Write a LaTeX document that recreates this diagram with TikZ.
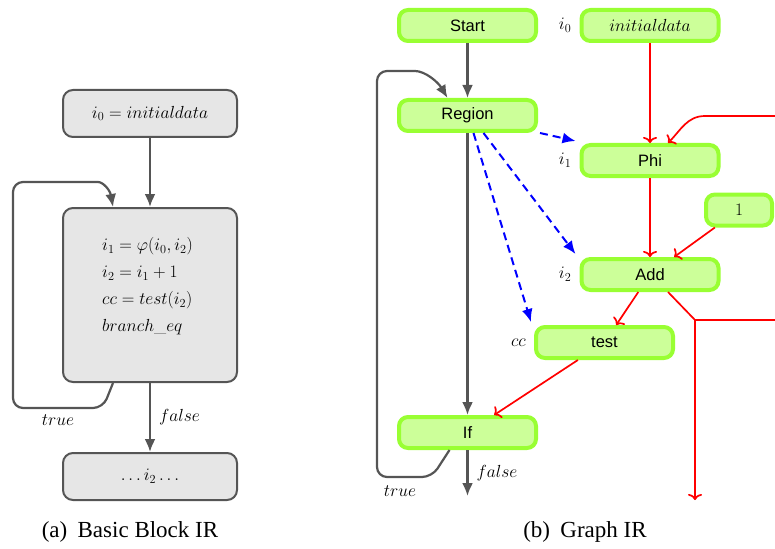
\RequirePackage{fix-cm}
\documentclass[tikz,border=0pt]{standalone}
\usepackage{fontspec}
\newfontfamily\nodefont{Liberation Sans}
\newfontfamily\capfont{Liberation Serif}
\usetikzlibrary{arrows.meta}
\definecolor{edgegray}{HTML}{555555}
\definecolor{blockfill}{HTML}{E6E6E6}
\definecolor{gfill}{HTML}{CCFF99}
\definecolor{gborder}{HTML}{99FF33}
\tikzset{
  block/.style={draw=edgegray, line width=2pt, fill=blockfill, rounded corners=10pt,
    minimum width=174pt, inner sep=0pt, font=\fontsize{17.5}{21}\selectfont},
  irnode/.style={draw=gborder, line width=4pt, fill=gfill, rounded corners=9pt,
    minimum width=137pt, minimum height=31pt, inner sep=0pt,
    font=\nodefont\fontsize{16.5}{19}\selectfont},
  mathlbl/.style={inner sep=0pt, font=\fontsize{17.5}{21}\selectfont},
  ctrl/.style={draw=edgegray, line width=2.2pt, -{Latex[length=13pt,width=11pt]}},
  dataflow/.style={draw=red, line width=1.7pt, -{To[length=6pt,width=14pt]}},
  dataline/.style={draw=red, line width=1.7pt},
  dep/.style={draw=blue, line width=2pt, dash pattern=on 8pt off 5pt,
    -{Latex[length=13pt,width=11pt]}},
  caption/.style={inner sep=0pt, font=\capfont\fontsize{23}{27}\selectfont},
}
\begin{document}
\begin{tikzpicture}[x=1pt, y=-1pt]
\useasboundingbox (0,0) rectangle (775,548);

% ---------- (a) basic block IR ----------
\node[block, minimum height=47pt] (init) at (150,113.5) {$i_0 = initialdata$};
\node[block, minimum height=174pt] (body) at (150,295) {};
\node[mathlbl, anchor=west, align=left, font=\fontsize{17.5}{27}\selectfont] (code) at (102,286.5)
  {$i_1 = \varphi(i_0, i_2)$\\ $i_2 = i_1 + 1$\\ $cc = test(i_2)$\\ $branch\_eq$};
\node[block, minimum height=47pt] (exit) at (150,476.5) {$\ldots i_2 \ldots$};

\draw[ctrl] (init) -- (body);
\draw[ctrl] (body) -- node[mathlbl, right=8pt] (falseA) {$false$} (exit);
\draw[ctrl, rounded corners=10pt] ([xshift=-37pt]body.south) -- (103,408) -- (13,408)
  -- (13,182) -- (88,182) [sharp corners] .. controls (103,182) and (110,190) .. ([xshift=-37pt]body.north);
\node[mathlbl] (trueA) at (58,420) {$true$};

\node[caption] (capA) at (130,532) {(a)\hspace{0.45em}Basic Block IR};

% ---------- (b) graph IR ----------
\node[irnode] (start) at (467.5,25.5) {Start};
\node[irnode] (initdata) at (650,25.5) {\fontsize{17.5}{21}\selectfont$initialdata$};
\node[irnode] (region) at (467.5,115.5) {Region};
\node[irnode] (phi) at (650,160.5) {Phi};
\node[irnode, minimum width=66pt] (one) at (739,210) {\fontsize{17.5}{21}\selectfont$1$};
\node[irnode] (add) at (650,274.5) {Add};
\node[irnode] (test) at (604.5,342.5) {test};
\node[irnode] (if) at (467.5,432.5) {If};

\node[mathlbl, anchor=east] (li0) at ([xshift=-8pt]initdata.west) {$i_0$};
\node[mathlbl, anchor=east] (li1) at ([xshift=-8pt]phi.west) {$i_1$};
\node[mathlbl, anchor=east] (li2) at ([xshift=-8pt]add.west) {$i_2$};
\node[mathlbl, anchor=east] (lcc) at ([xshift=-8pt]test.west) {$cc$};

% control flow
\coordinate (ifout) at (467.5,496);
\draw[ctrl] (start) -- (region);
\draw[ctrl] (region) -- (if);
\draw[ctrl] (if) -- node[mathlbl, right=8pt] (falseB) {$false$} (ifout);
\draw[ctrl, rounded corners=10pt] ([xshift=-18pt]if.south) -- (432,477) -- (377,477)
  -- (377,71) -- (405,71) [sharp corners] .. controls (425,71) and (438,82) .. ([xshift=-20pt]region.north);
\node[mathlbl] (trueB) at (400,491) {$true$};

% region dependencies
\draw[dep] ([xshift=2pt]region.south east) -- ([xshift=-4pt,yshift=2pt]phi.north west);
\draw[dep] ([xshift=16pt]region.south) -- ([xshift=-4pt,yshift=3pt]add.north west);
\draw[dep] ([xshift=6pt]region.south) -- ([xshift=-3pt,yshift=3pt]test.north west);

% data flow
\coordinate (phiin) at (775,116);
\coordinate (junc) at (695,320);
\coordinate (addright) at (775,320);
\coordinate (adddown) at (695,500);
\draw[dataflow] (initdata) -- (phi);
\draw[dataflow] (phiin) -- (705,116) to[out=180, in=45] ([xshift=18pt]phi.north);
\draw[dataflow] (phi) -- (add);
\draw[dataflow] (one) -- (add);
\draw[dataflow] (add) -- (test);
\draw[dataflow] (test) -- (if);
\draw[dataline] ([xshift=18pt]add.south) -- (junc) -- (addright);
\draw[dataflow] (junc) -- (adddown);

\node[caption] (capB) at (585,532) {(b)\hspace{0.45em}Graph IR};
\end{tikzpicture}
\end{document}
